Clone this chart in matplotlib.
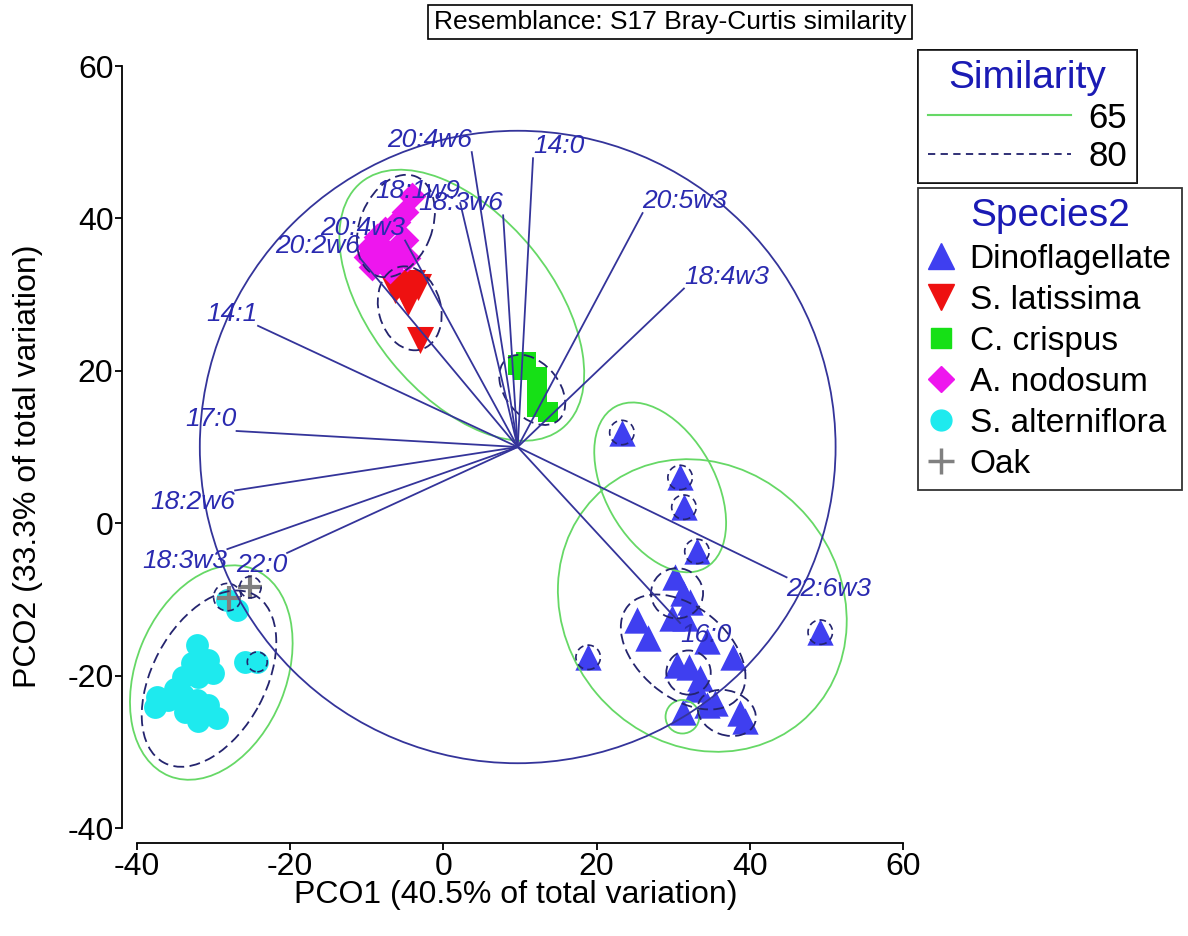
import matplotlib
matplotlib.use("Agg")
import matplotlib.pyplot as plt
from matplotlib.patches import Ellipse, Circle
from matplotlib.lines import Line2D

plt.rcParams['font.family'] = ['Liberation Sans', 'DejaVu Sans']
plt.rcParams['axes.unicode_minus'] = False

# ---------------- data ----------------
species = ['Dinoflagellate', 'S. latissima', 'C. crispus', 'A. nodosum', 'S. alterniflora', 'Oak']

dino_x = [23.3, 30.9, 31.4, 33.1, 18.9, 49.2, 30.2, 31.3, 32.2, 25.3, 29.8, 31.5, 26.7, 34.4,
          37.8, 30.5, 32.0, 33.5, 33.1, 35.5, 34.4, 31.3, 38.7, 39.4]
dino_y = [11.9, 6.0, 2.1, -3.7, -17.6, -14.3, -7.1, -9.2, -10.4, -12.7, -12.5, -12.5, -15.1, -15.4,
          -17.6, -18.6, -18.9, -20.3, -21.7, -23.6, -23.9, -24.8, -24.9, -25.9]

lat_x = [-5.9, -4.1, -5.0, -3.3, -4.6, -6.3, -3.1]
lat_y = [31.2, 31.5, 29.9, 31.0, 29.0, 30.6, 24.0]

cri_x = [9.7, 10.8, 10.4, 12.2, 12.2, 12.2, 13.7]
cri_y = [20.7, 21.1, 20.1, 19.2, 17.1, 15.2, 14.6]

nod_x = [-4.1, -5.0, -6.1, -7.6, -8.7, -9.6, -8.0, -6.1, -5.0, -10.0, -8.3, -6.1, -9.3, -4.7, -7.0]
nod_y = [43.0, 40.8, 39.5, 38.5, 37.5, 36.2, 36.2, 36.2, 37.1, 34.9, 34.8, 34.5, 33.6, 34.8, 33.2]

alt_x = [-28.3, -27.0, -25.9, -24.3, -32.2, -30.7, -32.8, -30.1, -34.0, -32.0, -35.0, -37.4, -35.9,
         -34.0, -32.2, -33.7, -30.7, -29.6, -32.0, -37.7]
alt_y = [-10.1, -11.4, -18.2, -18.2, -16.0, -18.0, -18.4, -19.6, -20.2, -20.2, -21.7, -22.8, -23.2,
         -22.6, -23.2, -24.8, -23.9, -25.6, -25.9, -24.1]

oak_x = [-25.2, -28.0]
oak_y = [-8.4, -9.8]

# vector overlay (end points of correlation vectors)
vec_names = ['20:4w6', '14:0', '18:1w9', '18:3w6', '20:5w3', '18:4w3', '20:4w3', '20:2w6',
             '14:1', '17:0', '18:2w6', '18:3w3', '22:0', '22:6w3', '16:0']
vec_x = [3.7, 11.7, 2.2, 7.8, 26.0, 31.4, -5.0, -10.9, -24.2, -27.0, -27.2, -28.2, -20.4, 44.8, 30.9]
vec_y = [48.7, 47.9, 42.0, 40.4, 40.7, 30.8, 37.1, 34.8, 25.9, 12.1, 4.3, -3.4, -3.9, -7.1, -13.1]
vec_origin = (9.7, 10.0)
circle_radius = 41.5

# similarity contours: (cx, cy, width, height, angle)
sim65 = [(2.4, 28.6, 41.6, 23.6, -51), (28.3, 4.7, 24.2, 14.4, -61), (33.8, -10.8, 40.0, 36.0, -50),
         (31.2, -25.4, 4.4, 4.4, 0), (-30.3, -19.6, 29.3, 19.6, 68)]
sim80 = [(-6.2, 39.0, 14.0, 9.4, 68), (-4.4, 28.2, 11.2, 8.1, 105), (11.6, 17.5, 10.5, 7.0, -50),
         (-30.6, -20.4, 25.0, 14.8, 62), (30.5, -9.2, 6.8, 6.6, 0), (31.3, -16.9, 18.8, 11.8, -40),
         (32.0, -19.6, 5.8, 5.8, 0), (37.0, -24.9, 7.8, 5.8, -20)]
# single-sample 80% groups (small circles)
single_x = [23.3, 30.9, 31.4, 33.1, 18.9, 49.2, -28.2, -24.3, -25.2]
single_y = [11.9, 6.0, 2.1, -3.7, -17.6, -14.3, -9.7, -18.2, -8.4]
single_r = [1.6, 1.6, 1.6, 1.6, 1.6, 1.6, 1.8, 1.3, 1.4]

xticks = [-40, -20, 0, 20, 40, 60]
yticks = [-40, -20, 0, 20, 40, 60]

# ---------------- styles ----------------
c_dino = '#3f3ff0'
c_lat = '#ee1111'
c_cri = '#16e016'
c_nod = '#ee16ee'
c_alt = '#1eeaee'
c_oak = '#808080'
c_vec = '#34349a'
c_lab = '#2a2ab0'
c_green = '#66d866'
c_dash = '#24246e'

fig = plt.figure(figsize=(11.88, 9.36), dpi=100)
ax = fig.add_axes([137 / 1188, 108 / 936, 766 / 1188, 762 / 936])
ax.set_xlim(-40, 60)
ax.set_ylim(-40, 60)

# markers
ax.scatter(dino_x, dino_y, marker='^', s=360, color=c_dino, linewidths=0, zorder=3)
ax.scatter(lat_x, lat_y, marker='v', s=380, color=c_lat, linewidths=0, zorder=3)
ax.scatter(cri_x, cri_y, marker='s', s=210, color=c_cri, linewidths=0, zorder=3)
ax.scatter(nod_x, nod_y, marker='D', s=200, color=c_nod, linewidths=0, zorder=3)
ax.scatter(alt_x, alt_y, marker='o', s=270, color=c_alt, linewidths=0, zorder=3)
ax.scatter(oak_x, oak_y, marker='+', s=320, color=c_oak, linewidths=3, zorder=3)

# similarity contours
for cx, cy, w, h, a in sim65:
    ax.add_patch(Ellipse((cx, cy), w, h, angle=a, fill=False, edgecolor=c_green, lw=1.3,
                         zorder=4, clip_on=False))
for cx, cy, w, h, a in sim80:
    ax.add_patch(Ellipse((cx, cy), w, h, angle=a, fill=False, edgecolor=c_dash, lw=1.3,
                         linestyle=(0, (6, 3)), zorder=4, clip_on=False))
for cx, cy, r in zip(single_x, single_y, single_r):
    ax.add_patch(Circle((cx, cy), r, fill=False, edgecolor=c_dash, lw=1.2,
                        linestyle=(0, (4, 2.5)), zorder=4, clip_on=False))

# vectors
ox, oy = vec_origin
ax.add_patch(Circle((ox, oy), circle_radius, fill=False, edgecolor=c_vec, lw=1.3, zorder=5,
                    clip_on=False))
for name, ex, ey in zip(vec_names, vec_x, vec_y):
    ax.plot([ox, ex], [oy, ey], color=c_vec, lw=1.3, zorder=5)
    ha = 'left' if ex > ox else 'right'
    va = 'bottom' if ey > oy else 'top'
    ax.text(ex, ey, name, ha=ha, va=va, color=c_lab, fontsize=19, style='italic', zorder=6)

# axes styling
for s in ['top', 'right']:
    ax.spines[s].set_visible(False)
for s in ['left', 'bottom']:
    ax.spines[s].set_position(('outward', 11))
    ax.spines[s].set_linewidth(1.3)
ax.spines['left'].set_bounds(-40, 60)
ax.spines['bottom'].set_bounds(-40, 60)
ax.set_xticks(xticks)
ax.set_yticks(yticks)
ax.tick_params(direction='out', length=5, width=1.3, labelsize=23, pad=1)

ax.set_xlabel('PCO1 (40.5% of total variation)', fontsize=23)
ax.set_ylabel('PCO2 (33.3% of total variation)', fontsize=23)
ax.xaxis.set_label_coords(0.495, -0.068)
ax.xaxis.label.set_va('top')
ax.yaxis.set_label_coords(-0.123, 0.475)

fig.text(670 / 1188, 1 - 22 / 936, 'Resemblance: S17 Bray-Curtis similarity', ha='center', va='center',
         fontsize=19, bbox=dict(boxstyle='square,pad=0.2', facecolor='white', edgecolor='black', lw=1.2))

# legends
h1 = [Line2D([], [], color=c_green, lw=1.5),
      Line2D([], [], color=c_dash, lw=1.3, linestyle=(0, (4, 3)))]
leg1 = fig.legend(h1, ['65', '80'], title='Similarity', loc='upper left',
                  bbox_to_anchor=(918 / 1188, 1 - 50 / 936), fontsize=25, title_fontsize=28,
                  frameon=True, fancybox=False, edgecolor='black', handlelength=4.1,
                  handletextpad=0.5, borderpad=0.3, labelspacing=0.15, borderaxespad=0)
leg1.get_title().set_color('#1a1ab4')
leg1.get_frame().set_linewidth(1.3)
fig.add_artist(leg1)

h2 = [Line2D([], [], marker='^', ls='', color=c_dino, markersize=19),
      Line2D([], [], marker='v', ls='', color=c_lat, markersize=19),
      Line2D([], [], marker='s', ls='', color=c_cri, markersize=14),
      Line2D([], [], marker='D', ls='', color=c_nod, markersize=13),
      Line2D([], [], marker='o', ls='', color=c_alt, markersize=15),
      Line2D([], [], marker='+', ls='', color=c_oak, markersize=19, markeredgewidth=2.5)]
leg2 = fig.legend(h2, species, title='Species2', loc='upper left',
                  bbox_to_anchor=(918 / 1188, 1 - 188 / 936), fontsize=24, title_fontsize=28,
                  frameon=True, fancybox=False, edgecolor='black', handlelength=0.8,
                  handletextpad=0.45, borderpad=0.3, labelspacing=0.3, borderaxespad=0)
leg2.get_title().set_color('#1a1ab4')
leg2.get_frame().set_linewidth(1.3)

fig.savefig('out.png', dpi=100)
